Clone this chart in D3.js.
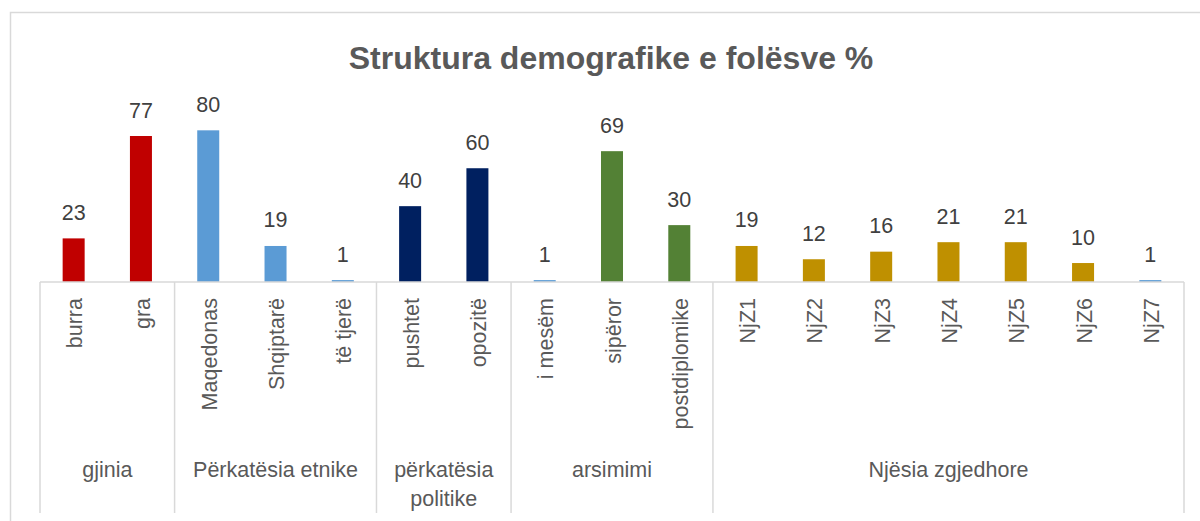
<!DOCTYPE html>
<html>
<head>
<meta charset="utf-8">
<script src="https://cdn.jsdelivr.net/npm/d3@7"></script>
<style>
  html, body { margin: 0; padding: 0; background: #fff; }
  svg { display: block; }
  text { font-family: "Liberation Sans", Arial, sans-serif; }
</style>
</head>
<body>
<svg id="chart" width="1200" height="521"></svg>
<script>
// ---- data ----
const title = "Struktura demografike e folësve %";
const categories = ["burra", "gra", "Maqedonas", "Shqiptarë", "të tjerë", "pushtet", "opozitë",
  "i mesëm", "sipëror", "postdiplomike", "NjZ1", "NjZ2", "NjZ3", "NjZ4", "NjZ5", "NjZ6", "NjZ7"];
const values = [23, 77, 80, 19, 1, 40, 60, 1, 69, 30, 19, 12, 16, 21, 21, 10, 1];
const groupNames = ["gjinia", "Përkatësia etnike", "përkatësia\npolitike", "arsimimi", "Njësia zgjedhore"];
const groupSizes = [2, 3, 2, 3, 7];
// ---- styles ----
const barColors = ["#C00000", "#C00000", "#5B9BD5", "#5B9BD5", "#5B9BD5", "#002060", "#002060",
  "#5B9BD5", "#538135", "#538135", "#BF9000", "#BF9000", "#BF9000", "#BF9000", "#BF9000", "#BF9000", "#5B9BD5"];

const svg = d3.select("#chart");
const W = 1200, H = 521;
const left = 40, right = 1184, base = 282, axisBottom = 513;
const lineColor = "#D9D9D9";

// chart border
svg.append("rect")
  .attr("x", 10.5).attr("y", 12.5)
  .attr("width", 1220).attr("height", 560)
  .attr("fill", "#fff").attr("stroke", lineColor).attr("stroke-width", 1.5);

// title
svg.append("text")
  .attr("x", 611).attr("y", 69)
  .attr("text-anchor", "middle")
  .attr("font-size", 32).attr("font-weight", "bold")
  .attr("fill", "#595959")
  .text(title);

// scales
const cell = d3.scaleBand().domain(categories).range([left, right]).padding(0);
const x = d3.scaleBand().domain(categories).range([left, right])
  .paddingInner(0.673).paddingOuter(0.3365);
const y = d3.scaleLinear().domain([0, 100]).range([base, base - 189.6]);

const data = categories.map((c, i) => ({ c, v: values[i], color: barColors[i] }));

// bars
svg.append("g").selectAll("rect").data(data).join("rect")
  .attr("x", d => x(d.c))
  .attr("width", x.bandwidth())
  .attr("y", d => y(d.v))
  .attr("height", d => y(0) - y(d.v))
  .attr("fill", d => d.color);

// value labels
svg.append("g").selectAll("text").data(data).join("text")
  .attr("x", d => x(d.c) + x.bandwidth() / 2)
  .attr("y", d => y(d.v) - 18.5)
  .attr("text-anchor", "middle")
  .attr("font-size", 21.5)
  .attr("fill", "#404040")
  .text(d => d.v);

// axis lines
const axisG = svg.append("g").attr("stroke", lineColor).attr("stroke-width", 1.5);
axisG.append("line").attr("x1", left).attr("x2", right).attr("y1", base).attr("y2", base);

// group boundaries
let idx = 0;
const groups = groupNames.map((name, gi) => {
  const first = categories[idx];
  const last = categories[idx + groupSizes[gi] - 1];
  idx += groupSizes[gi];
  return { name, x0: cell(first), x1: cell(last) + cell.bandwidth() };
});
const bounds = [groups[0].x0].concat(groups.map(g => g.x1));
axisG.selectAll("line.sep").data(bounds).join("line")
  .attr("class", "sep")
  .attr("x1", d => d).attr("x2", d => d)
  .attr("y1", base).attr("y2", axisBottom);

// category labels (rotated)
svg.append("g").selectAll("text").data(categories).join("text")
  .attr("transform", d => `translate(${cell(d) + cell.bandwidth() / 2},298) rotate(-90)`)
  .attr("text-anchor", "end")
  .attr("dy", "0.4em")
  .attr("font-size", 21.5)
  .attr("fill", "#595959")
  .text(d => d);

// group labels
const gl = svg.append("g").selectAll("text").data(groups).join("text")
  .attr("x", d => (d.x0 + d.x1) / 2)
  .attr("y", 477)
  .attr("text-anchor", "middle")
  .attr("font-size", 21.5)
  .attr("fill", "#595959");
gl.each(function(d) {
  const lines = d.name.split("\n");
  d3.select(this).selectAll("tspan").data(lines).join("tspan")
    .attr("x", (d.x0 + d.x1) / 2)
    .attr("dy", (l, i) => i === 0 ? 0 : 29)
    .text(l => l);
});
</script>
</body>
</html>
